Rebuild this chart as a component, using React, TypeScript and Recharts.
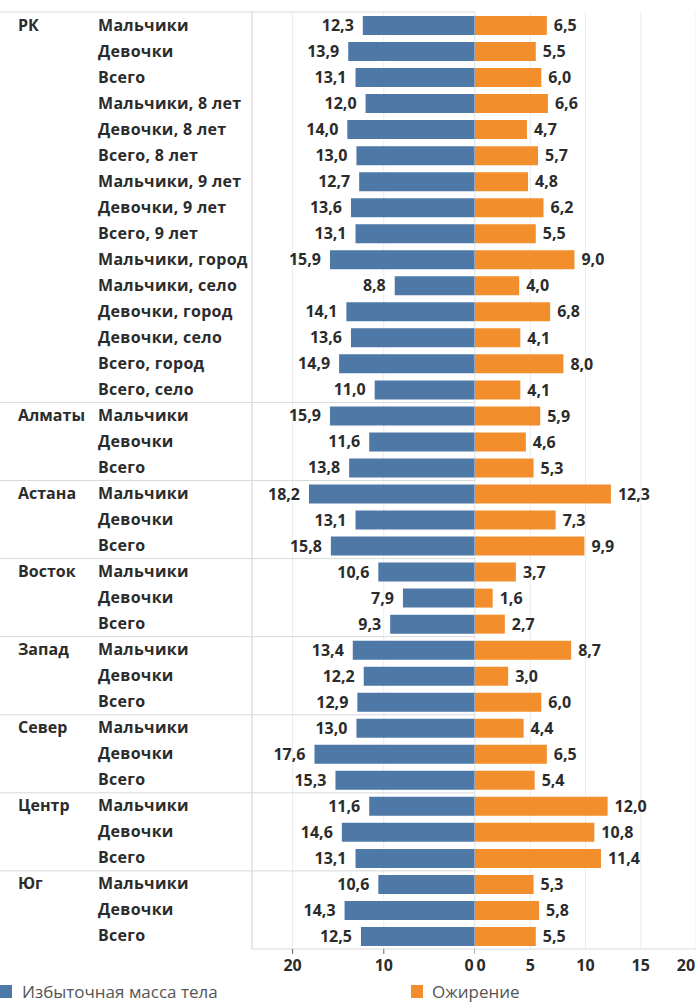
import { Bar, BarChart, CartesianGrid, LabelList, ReferenceLine, XAxis, YAxis } from 'recharts';

const groups = ['РК', 'Алматы', 'Астана', 'Восток', 'Запад', 'Север', 'Центр', 'Юг'];

const rkLabels = [
  'Мальчики', 'Девочки', 'Всего',
  'Мальчики, 8 лет', 'Девочки, 8 лет', 'Всего, 8 лет',
  'Мальчики, 9 лет', 'Девочки, 9 лет', 'Всего, 9 лет',
  'Мальчики, город', 'Мальчики, село', 'Девочки, город',
  'Девочки, село', 'Всего, город', 'Всего, село',
];
const regionLabels = ['Мальчики', 'Девочки', 'Всего'];

// Избыточная масса тела, %
const excessWeight = [
  [12.3, 13.9, 13.1, 12.0, 14.0, 13.0, 12.7, 13.6, 13.1, 15.9, 8.8, 14.1, 13.6, 14.9, 11.0],
  [15.9, 11.6, 13.8],
  [18.2, 13.1, 15.8],
  [10.6, 7.9, 9.3],
  [13.4, 12.2, 12.9],
  [13.0, 17.6, 15.3],
  [11.6, 14.6, 13.1],
  [10.6, 14.3, 12.5],
];

// Ожирение, %
const obesity = [
  [6.5, 5.5, 6.0, 6.6, 4.7, 5.7, 4.8, 6.2, 5.5, 9.0, 4.0, 6.8, 4.1, 8.0, 4.1],
  [5.9, 4.6, 5.3],
  [12.3, 7.3, 9.9],
  [3.7, 1.6, 2.7],
  [8.7, 3.0, 6.0],
  [4.4, 6.5, 5.4],
  [12.0, 10.8, 11.4],
  [5.3, 5.8, 5.5],
];

const leftTicks = [0, 10, 20];
const rightTicks = [0, 5, 10, 15, 20];

const BLUE = '#4e79a7';
const ORANGE = '#f28e2b';
const LINE = '#d9d9d9';
const TEXT = '#2b2b2b';
const FS = 16;

type Row = { key: string; group: string; sub: string; first: boolean; excess: number; obesity: number };

const rows: Row[] = [];
groups.forEach((g, gi) => {
  const subs = gi === 0 ? rkLabels : regionLabels;
  subs.forEach((s, si) => {
    rows.push({
      key: `${g}|${s}`,
      group: g,
      sub: s,
      first: si === 0,
      excess: excessWeight[gi][si],
      obesity: obesity[gi][si],
    });
  });
});

const fmt = (v: unknown) => Number(v).toFixed(1).replace('.', ',');

const LEFT_W = 475;
const RIGHT_W = 221;
const H = 980;

const CategoryTick = (props: any) => {
  const { y, index, payload } = props;
  const row = rows[index];
  const half = payload?.offset ?? 13;
  return (
    <g>
      {row.first && (
        <line x1={0} x2={LEFT_W} y1={y - half} y2={y - half} stroke={LINE} />
      )}
      {row.first && (
        <text x={18} y={y} dy={5.5} fontSize={FS} fontWeight={700} fill={TEXT}>
          {row.group}
        </text>
      )}
      <text x={98} y={y} dy={5.5} fontSize={FS} fontWeight={700} fill={TEXT} letterSpacing={0.3}>
        {row.sub}
      </text>
    </g>
  );
};

const SeparatorTick = (props: any) => {
  const { y, index, payload } = props;
  const row = rows[index];
  const half = payload?.offset ?? 13;
  if (!row.first) return <g />;
  return <line x1={0} x2={RIGHT_W} y1={y - half} y2={y - half} stroke={LINE} />;
};

const LeftXTick = (props: any) => {
  const { x, y, payload } = props;
  const shift = payload.value === 0 ? -6 : 0;
  return (
    <text x={x + shift} y={y} dy={15} textAnchor="middle" fontSize={FS} fontWeight={700} fill={TEXT}>
      {payload.value}
    </text>
  );
};

const RightXTick = (props: any) => {
  const { x, y, payload } = props;
  const shift = payload.value === 0 ? 6 : payload.value === 20 ? -10 : 0;
  return (
    <text x={x + shift} y={y} dy={15} textAnchor="middle" fontSize={FS} fontWeight={700} fill={TEXT}>
      {payload.value}
    </text>
  );
};

const LeftValueLabel = (props: any) => {
  const vb = props.viewBox ?? props;
  const x = Number(vb.x ?? props.x);
  const w = Number(vb.width ?? props.width);
  const y = Number(vb.y ?? props.y);
  const h = Number(vb.height ?? props.height);
  const edge = Math.min(x, x + w);
  return (
    <text x={edge - 9} y={y + h / 2} dy={5.5} textAnchor="end" fontSize={FS} fontWeight={700} fill={TEXT}>
      {fmt(props.value)}
    </text>
  );
};

const legendStyle = {
  position: 'absolute' as const,
  top: 983,
  display: 'flex',
  alignItems: 'center',
  fontSize: 17,
  lineHeight: '17px',
  color: '#555',
};

export default function App() {
  return (
    <div
      style={{
        position: 'absolute',
        left: 0,
        top: 0,
        width: 696,
        height: 1002,
        background: '#fff',
        fontFamily: "'Open Sans', sans-serif",
        overflow: 'hidden',
      }}
    >
      <div style={{ position: 'absolute', left: 0, top: 0 }}>
        <BarChart
          width={LEFT_W}
          height={H}
          data={rows}
          layout="vertical"
          margin={{ top: 12, right: 0, bottom: 0, left: 0 }}
          barSize={19}
        >
          <CartesianGrid horizontal={false} stroke="#ececec" />
          <XAxis
            type="number"
            domain={[0, 24.45]}
            reversed
            ticks={leftTicks}
            interval={0}
            height={31}
            axisLine={{ stroke: LINE }}
            tickLine={{ stroke: '#666' }}
            tickSize={5}
            tick={<LeftXTick />}
          />
          <YAxis
            type="category"
            dataKey="key"
            width={252}
            axisLine={{ stroke: LINE }}
            tickLine={false}
            interval={0}
            tick={<CategoryTick />}
          />
          <ReferenceLine x={0} stroke={LINE} />
          <Bar dataKey="excess" fill={BLUE} isAnimationActive={false}>
            <LabelList dataKey="excess" content={<LeftValueLabel />} />
          </Bar>
        </BarChart>
      </div>
      <div style={{ position: 'absolute', left: LEFT_W, top: 0 }}>
        <BarChart
          width={RIGHT_W}
          height={H}
          data={rows}
          layout="vertical"
          margin={{ top: 12, right: 0, bottom: 0, left: 0 }}
          barSize={19}
        >
          <CartesianGrid horizontal={false} stroke="#ececec" />
          <XAxis
            type="number"
            domain={[0, 20]}
            ticks={rightTicks}
            interval={0}
            height={31}
            axisLine={{ stroke: LINE }}
            tickLine={false}
            tickSize={5}
            tick={<RightXTick />}
          />
          <YAxis
            type="category"
            dataKey="key"
            width={0}
            axisLine={false}
            tickLine={false}
            interval={0}
            tick={<SeparatorTick />}
          />
          <Bar dataKey="obesity" fill={ORANGE} isAnimationActive={false}>
            <LabelList
              dataKey="obesity"
              position="right"
              offset={7}
              formatter={fmt}
              style={{ fill: TEXT, fontSize: FS, fontWeight: 700 }}
            />
          </Bar>
        </BarChart>
      </div>
      <div style={{ ...legendStyle, left: 0 }}>
        <span style={{ width: 12, height: 13, background: BLUE, display: 'inline-block', marginRight: 10 }} />
        <span>Избыточная масса тела</span>
      </div>
      <div style={{ ...legendStyle, left: 411 }}>
        <span style={{ width: 12, height: 13, background: ORANGE, display: 'inline-block', marginRight: 9 }} />
        <span>Ожирение</span>
      </div>
    </div>
  );
}
